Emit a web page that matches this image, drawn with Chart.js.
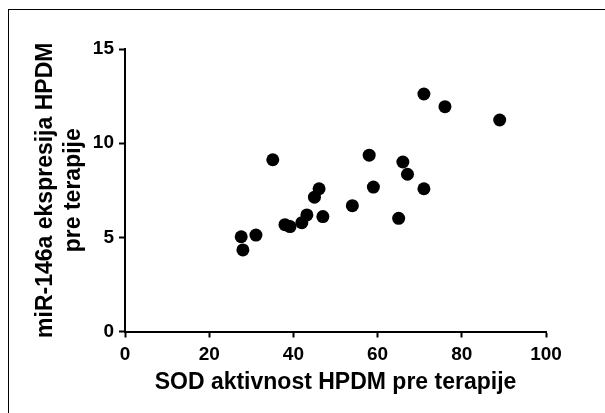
<!DOCTYPE html>
<html>
<head>
<meta charset="utf-8">
<script src="https://cdn.jsdelivr.net/npm/chart.js@4.4.0/dist/chart.umd.min.js"></script>
<style>
  body { margin: 0; background: #fff; }
  #wrap { position: relative; width: 605px; height: 413px; }
  #frame {
    position: absolute; left: 8px; top: 9px; right: 0; bottom: 0;
    border-top: 1px solid #000; border-left: 1px solid #000;
    pointer-events: none;
  }
  canvas { position: absolute; left: 0; top: 0; }
</style>
</head>
<body>
<div id="wrap">
  <canvas id="sodChart" width="605" height="413"></canvas>
  <div id="frame"></div>
</div>
<script>
// SOD aktivnost vs miR-146a ekspresija (HPDM, pre terapije)
const sodActivity = [71, 76, 89, 35.1, 58, 66, 67.1, 46.1, 45, 59, 71, 54, 47, 43.2, 42, 38, 39.2, 65, 27.6, 31.1, 28];
const mirExpression = [12.61, 11.94, 11.23, 9.12, 9.36, 9.0, 8.35, 7.58, 7.13, 7.67, 7.58, 6.68, 6.1, 6.19, 5.78, 5.67, 5.57, 6.01, 5.03, 5.12, 4.33];

const xTitle = "SOD aktivnost HPDM pre terapije";
const yTitle = ["miR-146a ekspresija HPDM", "pre terapije"];

const points = sodActivity.map((x, i) => ({ x: x, y: mirExpression[i] }));

const fontFamily = "'Liberation Sans', Arial, sans-serif";

const ctx = document.getElementById("sodChart");

new Chart(ctx, {
  type: "scatter",
  data: {
    datasets: [
      {
        data: points,
        backgroundColor: "#000",
        borderWidth: 0,
        pointRadius: 6.5,
        pointHoverRadius: 6.5,
      },
    ],
  },
  options: {
    responsive: false,
    animation: false,
    layout: { padding: { left: 0, top: 49, right: 59, bottom: 0 } },
    plugins: {
      legend: { display: false },
      tooltip: { enabled: false },
    },
    scales: {
      x: {
        type: "linear",
        min: 0,
        max: 100,
        ticks: {
          stepSize: 20,
          color: "#000",
          padding: 6,
          font: { family: fontFamily, size: 19, weight: "bold" },
        },
        grid: {
          drawOnChartArea: false,
          drawTicks: true,
          tickLength: 6,
          tickWidth: 2,
          tickColor: "#000",
        },
        border: { display: true, color: "#000", width: 2 },
        title: {
          display: true,
          text: xTitle,
          color: "#000",
          padding: { top: 0, bottom: 18 },
          font: { family: fontFamily, size: 23, weight: "bold", lineHeight: 1.1 },
        },
        afterFit: (scale) => { scale.height = 81.5; },
      },
      y: {
        type: "linear",
        min: 0,
        max: 15,
        ticks: {
          stepSize: 5,
          color: "#000",
          padding: 5,
          font: { family: fontFamily, size: 19, weight: "bold" },
        },
        grid: {
          drawOnChartArea: false,
          drawTicks: true,
          tickLength: 6,
          tickWidth: 2,
          tickColor: "#000",
        },
        border: { display: true, color: "#000", width: 2 },
        title: {
          display: true,
          text: yTitle,
          color: "#000",
          padding: { top: 32, bottom: 0 },
          font: { family: fontFamily, size: 23, weight: "bold", lineHeight: 1.2 },
        },
        afterFit: (scale) => { scale.width = 125; },
      },
    },
  },
});
</script>
</body>
</html>
